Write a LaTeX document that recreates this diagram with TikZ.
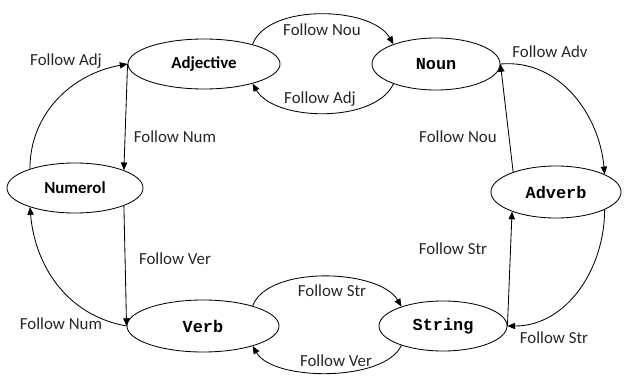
\documentclass[tikz,border=0pt]{standalone}
\usepackage{fontspec}
\setmainfont{Carlito}
\setmonofont{Liberation Mono}
\usepackage{tikz}
\usetikzlibrary{shapes.geometric, arrows.meta}
\tikzset{
    state_sans/.style={
        ellipse, draw=black, line width=0.6pt, inner sep=0pt,
        minimum width=3.8cm, minimum height=1.25cm,
        font=\fontsize{12}{14}\selectfont\bfseries
    },
    state_mono/.style={
        ellipse, draw=black, line width=0.6pt, inner sep=0pt,
        minimum width=3.2cm, minimum height=1.3cm,
        font=\fontsize{12}{14}\selectfont\ttfamily\bfseries
    },
    follow_arrow/.style={
        -{Triangle[length=5.5pt, width=4.5pt]}, draw=black, line width=0.6pt
    },
    lbl/.style={
        font=\fontsize{12}{14}\selectfont, text=black!85, inner sep=1pt
    }
}

\begin{document}
\begin{tikzpicture}[x=0.025cm, y=0.025cm]
    \useasboundingbox (0,0) rectangle (624,376);

    % States
    \node[state_sans] (adj) at (204, 312) {Adjective};
    \node[state_mono, minimum width=3.2cm] (noun) at (436, 312) {Noun};
    \node[state_sans, minimum width=3.4cm] (num) at (75, 188) {Numerol};
    \node[state_mono, minimum width=3.25cm] (adv) at (556, 184) {Adverb};
    \node[state_mono, minimum width=3.8cm] (verb) at (203, 50) {Verb};
    \node[state_mono, minimum height=1.25cm] (str) at (443, 50) {String};

    % Transitions
    \draw[follow_arrow] (adj.22) to[out=70, in=120, looseness=0.8] (noun.155);
    \draw[follow_arrow] (noun.205) to[out=245, in=300, looseness=0.8] (adj.338);
    \draw[follow_arrow] (adj.west) -- (num.20);
    \draw[follow_arrow] (num.157) to[out=90, in=190] (adj.west);
    \draw[follow_arrow] (num.-20) -- (verb.west);
    \draw[follow_arrow] (verb.west) to[out=170, in=-85] (num.203);
    \draw[follow_arrow] (verb.22) to[out=70, in=120, looseness=0.75] (str.155);
    \draw[follow_arrow] (str.205) to[out=245, in=300, looseness=0.7] (verb.338);
    \draw[follow_arrow] (str.east) -- (adv.204);
    \draw[follow_arrow] (adv.-20) to[out=-90, in=0] (str.east);
    \draw[follow_arrow] (noun.east) to[out=5, in=95] (adv.20);
    \draw[follow_arrow] (adv.155) -- (noun.east);

    % Labels
    \node[lbl] (l_adj_noun) at (322, 346) {Follow Nou};
    \node[lbl] (l_noun_adj) at (320, 277) {Follow Adj};
    \node[lbl] (l_num_adj) at (66, 315) {Follow Adj};
    \node[lbl] (l_adj_num) at (175, 239) {Follow Num};
    \node[lbl] (l_num_verb) at (175, 117) {Follow Ver};
    \node[lbl] (l_verb_num) at (61, 52) {Follow Num};
    \node[lbl] (l_verb_str) at (332, 85) {Follow Str};
    \node[lbl] (l_str_verb) at (336, 15) {Follow Ver};
    \node[lbl] (l_noun_adv) at (550, 324) {Follow Adv};
    \node[lbl] (l_adv_noun) at (458, 239) {Follow Nou};
    \node[lbl] (l_str_adv) at (453, 127) {Follow Str};
    \node[lbl] (l_adv_str) at (554, 38) {Follow Str};
\end{tikzpicture}
\end{document}
